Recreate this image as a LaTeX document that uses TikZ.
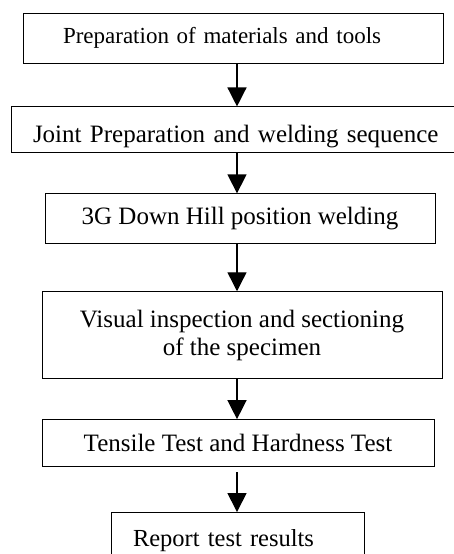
\documentclass[tikz,border=0pt]{standalone}
\usepackage{fontspec}
\setmainfont{Liberation Serif}
\usetikzlibrary{positioning,arrows.meta}

\begin{document}
\begin{tikzpicture}[
    x=1pt, y=1pt,
    box/.style={draw, line width=0.9pt, inner ysep=0pt, align=center, font=\fontsize{25}{28}\selectfont},
    flow/.style={line width=1.4pt, -{Triangle[width=19pt, length=19pt]}}
  ]
  \clip (0,0) rectangle (454,-554);
  \coordinate (axis) at (237,0);
  \node[box, font=\fontsize{23}{28}\selectfont, text width=340pt, inner xsep=40pt, align=left, minimum height=50pt] (prep) at (233,-38) {Preparation of materials and tools};
  \node[box, below=43pt of prep, xshift=4pt, text width=408pt, inner xsep=22pt, align=left, text height=36pt, text depth=10pt] (joint) {Joint Preparation and welding sequence};
  \node[box, below=40pt of joint, xshift=3pt, minimum width=390pt, minimum height=50pt] (weld) {3G Down Hill position welding};
  \node[box, below=47pt of weld, xshift=2pt, minimum width=400pt, minimum height=87pt] (visual) {Visual inspection and sectioning\\of the specimen};
  \node[box, below=40pt of visual, xshift=-4pt, minimum width=392pt, minimum height=47pt] (tests) {Tensile Test and Hardness Test};
  \node[box, below=45pt of tests, xshift=-0.5pt, font=\fontsize{24.5}{28}\selectfont, text width=209pt, inner xsep=22pt, align=left, text height=34pt, text depth=38pt] (report) {Report test results};
  \draw[flow] (prep.south -| axis) -- (joint.north -| axis);
  \draw[flow] (joint.south -| axis) -- (weld.north -| axis);
  \draw[flow] (weld.south -| axis) -- (visual.north -| axis);
  \draw[flow] (visual.south -| axis) -- (tests.north -| axis);
  \draw[flow, shorten <=5pt] (tests.south -| axis) -- (report.north -| axis);
\end{tikzpicture}
\end{document}
